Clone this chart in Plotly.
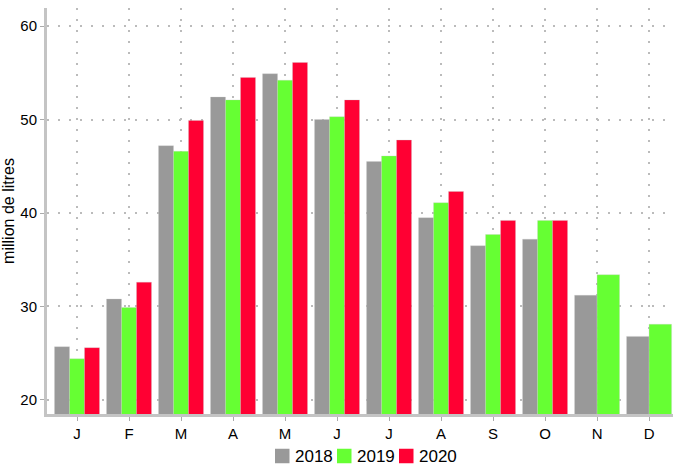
import plotly.graph_objects as go

months = ["J", "F", "M", "A", "M", "J", "J", "A", "S", "O", "N", "D"]
years = ["2018", "2019", "2020"]
v2018 = [25.7, 30.8, 47.2, 52.4, 54.9, 50.0, 45.5, 39.5, 36.5, 37.2, 31.2, 26.8]
v2019 = [24.4, 29.9, 46.6, 52.1, 54.2, 50.3, 46.1, 41.1, 37.7, 39.2, 33.4, 28.1]
v2020 = [25.6, 32.6, 49.9, 54.5, 56.1, 52.1, 47.8, 42.3, 39.2, 39.2, None, None]
colors = ["#999999", "#66FF33", "#FF0033"]

series = [v2018, v2019, v2020]
group_w = 0.865
x = list(range(len(months)))

W, H = 673, 466
ML, MR, MT, MB = 47, 0, 8, 52
PW, PH = W - ML - MR, H - MT - MB


def px_to_paper(px, py):
    return (px - ML) / PW, (H - MB - py) / PH


fig = go.Figure()
for k, (name, vals, col) in enumerate(zip(years, series, colors)):
    widths, offsets = [], []
    for i in x:
        present = [s[i] is not None for s in series]
        n = sum(present)
        w = group_w / n
        rank = sum(present[:k])
        widths.append(w)
        offsets.append(-group_w / 2 + rank * w)
    fig.add_trace(go.Bar(
        x=x, y=vals, name=name, width=widths, offset=offsets,
        marker=dict(color=col, line=dict(color="rgba(200,200,200,0.6)", width=0.5)),
    ))

# manual legend (square keys + labels), positioned in pixels
leg_x0, leg_step, leg_yc, sq = 275, 62, 456, 14.5
for k, (name, col) in enumerate(zip(years, colors)):
    lx = leg_x0 + k * leg_step
    ax0, ay0 = px_to_paper(lx, leg_yc + sq / 2)
    ax1, ay1 = px_to_paper(lx + sq, leg_yc - sq / 2)
    fig.add_shape(type="rect", xref="paper", yref="paper", x0=ax0, y0=ay0, x1=ax1, y1=ay1,
                  fillcolor=col, line=dict(width=0))
    tx, ty = px_to_paper(lx + sq + 4, leg_yc)
    fig.add_annotation(text=name, xref="paper", yref="paper", x=tx, y=ty,
                       xanchor="left", yanchor="middle", showarrow=False,
                       font=dict(size=17), xshift=-1)

grid_dash = "2px,9px"
fig.update_layout(
    barmode="overlay",
    width=W, height=H,
    margin=dict(l=ML, r=MR, t=MT, b=MB, pad=0),
    paper_bgcolor="white", plot_bgcolor="white",
    font=dict(family="Liberation Sans, Arial, sans-serif", color="black"),
    showlegend=False,
)
fig.update_xaxes(
    tickmode="array", tickvals=x, ticktext=months, range=[-0.577, 11.46],
    showgrid=True, gridcolor="#BBBBBB", griddash=grid_dash, gridwidth=2,
    showline=True, linecolor="#C4C4C4", linewidth=3,
    ticks="outside", ticklen=4, tickcolor="#AAAAAA", tickwidth=1,
    tickfont=dict(size=15), zeroline=False, automargin=False,
)
fig.update_yaxes(
    range=[18.5, 61.93], tickvals=[20, 30, 40, 50, 60],
    showgrid=True, gridcolor="#BBBBBB", griddash=grid_dash, gridwidth=2,
    showline=True, linecolor="#C4C4C4", linewidth=3,
    ticks="outside", ticklen=4, tickcolor="#AAAAAA", tickwidth=1,
    tickfont=dict(size=15), zeroline=False, automargin=False,
    title=dict(text="million de litres", font=dict(size=16), standoff=3),
)
fig.write_html(
    "out.html",
    config={"displayModeBar": False},
    post_script="document.body.style.margin='0';document.documentElement.style.overflow='hidden';",
)
